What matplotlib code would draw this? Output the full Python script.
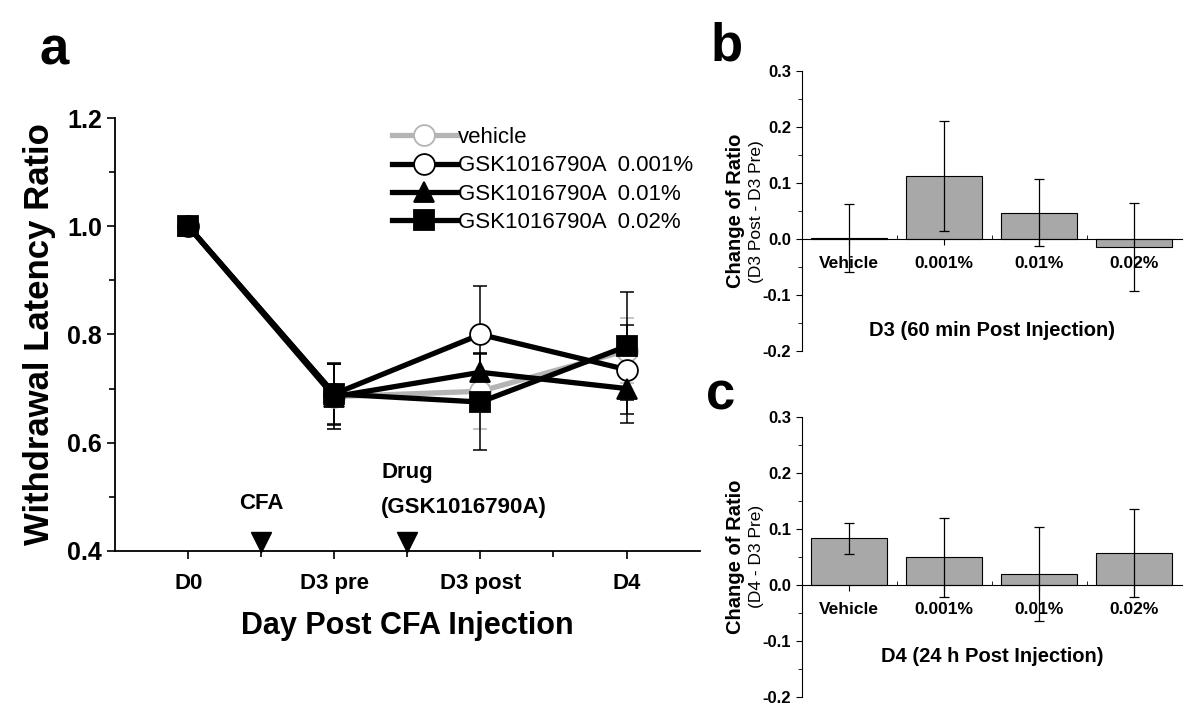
import numpy as np
import matplotlib
matplotlib.use('Agg')
import matplotlib.pyplot as plt
from matplotlib.ticker import MultipleLocator

plt.rcParams['font.family'] = ['Liberation Sans', 'DejaVu Sans']

days = ['D0', 'D3 pre', 'D3 post', 'D4']
vehicle = [1.0, 0.685, 0.695, 0.77]
vehicle_err = [0.0, 0.06, 0.07, 0.06]
gsk_0001 = [1.0, 0.69, 0.80, 0.735]
gsk_0001_err = [0.0, 0.055, 0.09, 0.083]
gsk_001 = [1.0, 0.685, 0.73, 0.70]
gsk_001_err = [0.0, 0.06, 0.035, 0.064]
gsk_002 = [1.0, 0.69, 0.675, 0.778]
gsk_002_err = [0.0, 0.058, 0.088, 0.1]

groups = ['Vehicle', '0.001%', '0.01%', '0.02%']
d3_change = [0.002, 0.113, 0.047, -0.014]
d3_change_err = [0.06, 0.098, 0.06, 0.079]
d4_change = [0.083, 0.049, 0.02, 0.057]
d4_change_err = [0.028, 0.07, 0.084, 0.079]

fig = plt.figure(figsize=(12, 7.2), dpi=100)

# ---- panel a
ax = fig.add_axes([0.096, 0.235, 0.487, 0.601])
x = np.arange(len(days))
gray = '#b4b4b4'

series = [
    (vehicle, vehicle_err, 'o', 'white', gray, gray, 'vehicle'),
    (gsk_0001, gsk_0001_err, 'o', 'white', 'black', 'black', 'GSK1016790A  0.001%'),
    (gsk_001, gsk_001_err, '^', 'black', 'black', 'black', 'GSK1016790A  0.01%'),
    (gsk_002, gsk_002_err, 's', 'black', 'black', 'black', 'GSK1016790A  0.02%'),
]
for vals, errs, mk, fc, ec, lc, lab in series:
    ax.errorbar(x[1:], vals[1:], yerr=errs[1:], fmt='none', ecolor=lc,
                elinewidth=1.1, capsize=5, capthick=1.1, zorder=2)
    ax.plot(x, vals, color=lc, lw=3.8, marker=mk, ms=15, mfc=fc, mec=ec,
            mew=1.3, label=lab, zorder=3)

ax.set_xlim(-0.5, 3.5)
ax.set_ylim(0.4, 1.2)
ax.set_xticks(x)
ax.set_xticklabels(days, fontsize=16, fontweight='bold')
ax.set_xticks([0.5, 1.5, 2.5], minor=True)
ax.set_yticks([0.4, 0.6, 0.8, 1.0, 1.2])
ax.set_yticklabels(['0.4', '0.6', '0.8', '1.0', '1.2'], fontsize=18, fontweight='bold')
ax.yaxis.set_minor_locator(MultipleLocator(0.1))
ax.tick_params(which='major', length=6, width=1.2, direction='out')
ax.tick_params(which='minor', length=4, width=1.2, direction='out')
ax.tick_params(axis='x', pad=10)
for s in ['top', 'right']:
    ax.spines[s].set_visible(False)
for s in ['left', 'bottom']:
    ax.spines[s].set_linewidth(1.3)
ax.set_ylabel('Withdrawal Latency Ratio', fontsize=25, fontweight='bold', labelpad=8)
ax.set_xlabel('Day Post CFA Injection', fontsize=22, fontweight='bold', labelpad=12)

ax.plot([0.5, 1.5], [0.4166, 0.4166], 'v', color='black', ms=15, clip_on=False, zorder=4)
ax.text(0.5, 0.488, 'CFA', ha='center', va='center', fontsize=16, fontweight='bold')
ax.text(1.32, 0.545, 'Drug', ha='left', va='center', fontsize=16, fontweight='bold')
ax.text(1.32, 0.480, '(GSK1016790A)', ha='left', va='center', fontsize=16, fontweight='bold')

ax.legend(loc='upper left', bbox_to_anchor=(0.455, 1.005), frameon=False, fontsize=16,
          handlelength=2.9, handletextpad=0.05, labelspacing=0.33, borderpad=0)

fig.text(0.033, 0.93, 'a', fontsize=38, fontweight='bold', va='center')


# ---- panels b, c
def bar_panel(rect, vals, errs, title, title_y, sublabel):
    bx = fig.add_axes(rect)
    pos = np.arange(len(groups))
    bx.bar(pos, vals, width=0.8, color='#a8a8a8', edgecolor='black', linewidth=0.8, zorder=2)
    bx.errorbar(pos, vals, yerr=errs, fmt='none', ecolor='black', elinewidth=0.9,
                capsize=3.5, capthick=0.9, zorder=3)
    bx.set_xlim(-0.5, 3.5)
    bx.set_ylim(-0.2, 0.3)
    bx.spines['bottom'].set_position(('data', 0))
    bx.spines['top'].set_visible(False)
    bx.spines['right'].set_visible(False)
    bx.set_xticks(pos)
    bx.set_xticklabels(groups, fontsize=12.5, fontweight='bold')
    bx.set_xticks([0.5, 1.5, 2.5], minor=True)
    bx.tick_params(axis='x', which='major', length=4, direction='out', pad=8)
    bx.tick_params(axis='x', which='minor', length=3, direction='in')
    bx.set_yticks([-0.2, -0.1, 0.0, 0.1, 0.2, 0.3])
    bx.set_yticklabels(['-0.2', '-0.1', '0.0', '0.1', '0.2', '0.3'], fontsize=12, fontweight='bold')
    bx.yaxis.set_minor_locator(MultipleLocator(0.05))
    bx.tick_params(axis='y', which='major', length=4, direction='out')
    bx.tick_params(axis='y', which='minor', length=3, direction='out')
    bx.text(0.5, title_y, title, transform=bx.transAxes, ha='center', va='center',
            fontsize=14.5, fontweight='bold')
    bx.text(-0.175, 0.5, 'Change of Ratio', transform=bx.transAxes, rotation=90,
            ha='center', va='center', fontsize=14.5, fontweight='bold')
    bx.text(-0.118, 0.5, sublabel, transform=bx.transAxes, rotation=90,
            ha='center', va='center', fontsize=12.5)
    return bx


bar_panel([0.668, 0.5125, 0.317, 0.3885], d3_change, d3_change_err,
          'D3 (60 min Post Injection)', 0.075, '(D3 Post - D3 Pre)')
bar_panel([0.668, 0.032, 0.317, 0.389], d4_change, d4_change_err,
          'D4 (24 h Post Injection)', 0.143, '(D4 - D3 Pre)')

fig.text(0.592, 0.935, 'b', fontsize=38, fontweight='bold', va='center')
fig.text(0.588, 0.45, 'c', fontsize=38, fontweight='bold', va='center')

fig.savefig('out.png', dpi=100, facecolor='white')
